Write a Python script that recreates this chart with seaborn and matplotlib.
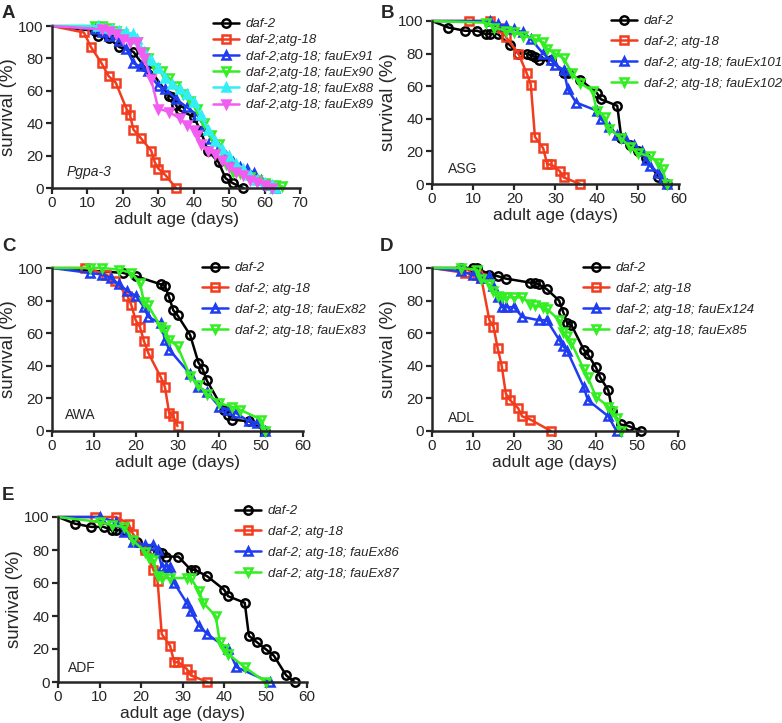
import matplotlib
matplotlib.use("Agg")
import pandas as pd
import seaborn as sns
import matplotlib.pyplot as plt

# ---- DATA ----
# A: Pgpa-3
a_daf2_days = [0, 12, 13, 16, 19, 23, 26, 28, 33, 34, 35, 36, 40, 42, 44, 47, 49, 51, 54]
a_daf2_surv = [100, 97, 94, 92.5, 87, 84, 75, 72, 57, 56, 51, 48, 44, 35, 23, 16, 6, 3, 0]
a_atg18_days = [0, 9, 11, 14, 16, 18, 21, 22, 23, 25, 28, 29, 30, 32, 35]
a_atg18_surv = [100, 96, 87, 77, 69, 65, 49, 45, 36, 31, 23, 16, 12, 8, 0]
a_ex91_days = [0, 12, 14, 16, 19, 21, 23, 25, 27, 30, 32, 35, 38, 41, 43, 45, 47, 49, 51, 53, 55, 57, 59, 61, 63]
a_ex91_surv = [100, 98, 96, 94, 91, 86, 77, 75, 72, 63, 61, 55, 50, 45, 38, 30, 25, 20, 16, 13, 12, 9, 5, 2, 0]
a_ex90_days = [0, 12, 14, 16, 18, 20, 22, 24, 26, 27, 29, 31, 33, 35, 37, 39, 41, 43, 45, 47, 49, 51, 53, 56, 58, 60, 63, 65]
a_ex90_surv = [100, 100, 100, 99, 97, 95, 92, 90, 84, 80, 74, 72, 68, 63, 58, 54, 49, 40, 33, 27, 15, 10, 9, 7, 5, 3, 2, 1]
a_ex88_days = [0, 13, 15, 17, 19, 21, 23, 24, 26, 28, 30, 32, 34, 36, 38, 40, 42, 44, 46, 48, 50, 52, 54, 56, 58, 60, 62, 63]
a_ex88_surv = [100, 100, 99, 98, 97, 96, 95, 92, 84, 79, 74, 68, 64, 61, 58, 53, 45, 36, 29, 24, 20, 15, 12, 8, 5, 3, 2, 0]
a_ex89_days = [0, 14, 16, 18, 20, 22, 24, 25, 26, 28, 30, 33, 36, 38, 40, 41, 42, 44, 46, 48, 50, 52, 54, 56, 58, 60, 62]
a_ex89_surv = [100, 98, 97, 95, 92, 90, 90, 84, 80, 67, 49, 47, 43, 39, 36, 33, 27, 23, 21, 17, 13, 10, 8, 5, 4, 2, 0]

# shared controls for B (ASG) and E (ADF)
ctrl_daf2_days = [0, 4, 8, 11, 13, 14, 16, 19, 21, 23, 24, 25, 26, 29, 32, 33, 36, 40, 41, 45, 46, 48, 50, 52, 55, 57]
ctrl_daf2_surv = [100, 96, 94, 94, 92, 92, 92, 85, 80, 80, 79, 78, 76, 76, 68, 68, 64, 56, 52, 48, 28, 24, 20, 16, 4, 0]
ctrl_atg18_days = [0, 9, 14, 17, 18, 21, 23, 24, 25, 27, 28, 29, 31, 32, 36]
ctrl_atg18_surv = [100, 100, 100, 96, 90, 80, 68, 61, 29, 22, 12, 12, 8, 4, 0]

# B: ASG
b_ex101_days = [0, 14, 16, 18, 20, 22, 24, 27, 29, 30, 32, 33, 35, 40, 41, 43, 45, 47, 49, 51, 52, 53, 55, 56, 57]
b_ex101_surv = [100, 100, 98, 97, 95, 93, 89, 80, 76, 73, 70, 58, 50, 45, 40, 35, 30, 28, 24, 20, 15, 11, 7, 3, 0]
b_ex102_days = [0, 13, 15, 18, 20, 22, 25, 27, 28, 30, 32, 34, 36, 39, 40, 42, 43, 46, 48, 50, 53, 55, 56, 57]
b_ex102_surv = [100, 99, 96, 94, 93, 91, 89, 87, 83, 80, 77, 68, 62, 57, 45, 41, 34, 28, 23, 19, 17, 13, 9, 0]

# C: AWA
c_daf2_days = [0, 17, 20, 26, 27, 28, 29, 30, 33, 35, 36, 37, 41, 42, 43, 47, 51]
c_daf2_surv = [100, 97, 95, 90, 89, 82, 74, 71, 59, 42, 38, 31, 13, 10, 7, 6, 0]
c_atg18_days = [0, 8, 13, 15, 18, 19, 20, 21, 22, 23, 26, 27, 28, 29, 30]
c_atg18_surv = [100, 100, 96, 92, 83, 77, 68, 64, 55, 48, 33, 27, 11, 9, 3]
c_ex82_days = [0, 9, 12, 14, 16, 18, 20, 22, 23, 26, 27, 28, 33, 35, 37, 40, 42, 44, 47, 49, 51]
c_ex82_surv = [100, 97, 96, 94, 90, 86, 83, 76, 70, 66, 56, 50, 35, 27, 24, 15, 13, 11, 6, 5, 0]
c_ex83_days = [0, 9, 12, 16, 19, 21, 22, 23, 26, 27, 28, 30, 33, 35, 37, 40, 43, 45, 50, 51]
c_ex83_surv = [100, 100, 100, 99, 97, 91, 79, 77, 64, 62, 56, 52, 34, 28, 23, 17, 15, 13, 7, 0]

# D: ADL
d_daf2_days = [0, 7, 10, 11, 14, 16, 18, 24, 25, 26, 28, 31, 32, 33, 34, 37, 38, 40, 41, 43, 44, 46, 48, 51]
d_daf2_surv = [100, 100, 100, 100, 96, 95, 93.5, 91, 91, 90, 87, 80, 73, 66, 65, 50, 47, 39, 33, 25, 12, 4, 3, 0]
d_atg18_days = [0, 8, 11, 12, 14, 15, 16, 17, 18, 19, 21, 22, 24, 29]
d_atg18_surv = [100, 97, 96, 94, 68, 64, 51, 40, 23, 19, 14, 9, 7, 0]
d_ex124_days = [0, 7, 10, 12, 14, 15, 16, 17, 18, 20, 22, 26, 28, 31, 32, 33, 37, 38, 43, 45]
d_ex124_surv = [100, 98, 96, 94, 95, 89, 82, 76, 76, 76, 70, 68, 68, 56, 52, 49, 27, 19, 9, 0]
d_ex85_days = [0, 7, 11, 12, 14, 15, 16, 17, 18, 20, 22, 24, 25, 27, 28, 31, 32, 33, 34, 37, 38, 40, 43, 44, 45, 46]
d_ex85_surv = [100, 100, 99, 93, 90, 86, 83, 82, 82, 82, 82, 78, 77, 76, 75, 68, 61, 58, 54, 38, 33, 21, 15, 12, 8, 0]

# E: ADF
e_ex86_days = [0, 10, 14, 16, 18, 21, 23, 24, 25, 26, 27, 28, 31, 32, 34, 36, 41, 43, 51]
e_ex86_surv = [100, 100, 97, 91, 85, 83, 83, 80, 70, 70, 70, 60, 48, 43, 34, 29, 20, 9, 0]
e_ex87_days = [0, 10, 13, 16, 18, 21, 22, 23, 24, 25, 27, 31, 32, 34, 35, 38, 39, 40, 41, 45, 50]
e_ex87_surv = [100, 97, 95, 94, 86, 79, 75, 74, 64, 63, 63, 63, 63, 55, 48, 40, 24, 20, 17, 9, 0]

# ---- STYLE ----
sns.set_style("ticks")
plt.rcParams['font.family'] = ['Liberation Sans', 'DejaVu Sans']

BLACK = '#000000'
RED = '#f23c1e'
BLUE = '#1e3cf0'
GREEN = '#33ee22'
CYAN = '#33eef5'
MAGENTA = '#f25cf0'


def draw_curve(ax, days, surv, color, marker, filled, label):
    df = pd.DataFrame({'day': days, 'surv': surv})
    sns.lineplot(data=df, x='day', y='surv', ax=ax, color=color, marker=marker,
                 markersize=6, markerfacecolor=color if filled else 'none',
                 markeredgecolor=color, markeredgewidth=1.8, linewidth=1.8,
                 markevery=list(range(1, len(df))), estimator=None, sort=False,
                 label=label, clip_on=False)


def style_axes(ax, xmax, legend_xy, spacing):
    ax.set_xlim(0, xmax)
    ax.set_ylim(0, 100)
    ax.set_xticks(range(0, xmax + 1, 10))
    ax.set_yticks(range(0, 101, 20))
    ax.set_xlabel('adult age (days)', fontsize=12.5, labelpad=1)
    ax.set_ylabel('survival (%)', fontsize=13.5, labelpad=1)
    ax.tick_params(labelsize=11, width=1.6, length=4, pad=2)
    for s in ['left', 'bottom']:
        ax.spines[s].set_linewidth(1.8)
    sns.despine(ax=ax)
    fig = ax.figure
    ax.legend(loc='upper left', bbox_to_anchor=(legend_xy[0] / 782, 1 - legend_xy[1] / 723),
              bbox_transform=fig.transFigure, frameon=False, borderpad=0, borderaxespad=0,
              handlelength=2.0, handletextpad=0.5, labelspacing=spacing,
              prop={'style': 'italic', 'size': 9.5})


fig = plt.figure(figsize=(7.82, 7.23), dpi=100)
ax_a = fig.add_axes([52 / 782, 1 - 188 / 723, 248 / 782, 162 / 723])
ax_b = fig.add_axes([432 / 782, 1 - 184 / 723, 247 / 782, 163 / 723])
ax_c = fig.add_axes([52 / 782, 1 - 431 / 723, 251 / 782, 163 / 723])
ax_d = fig.add_axes([432 / 782, 1 - 431 / 723, 246 / 782, 163 / 723])
ax_e = fig.add_axes([58 / 782, 1 - 682 / 723, 249 / 782, 165 / 723])

# A
draw_curve(ax_a, a_daf2_days, a_daf2_surv, BLACK, 'o', False, 'daf-2')
draw_curve(ax_a, a_atg18_days, a_atg18_surv, RED, 's', False, 'daf-2;atg-18')
draw_curve(ax_a, a_ex91_days, a_ex91_surv, BLUE, '^', False, 'daf-2;atg-18; fauEx91')
draw_curve(ax_a, a_ex90_days, a_ex90_surv, GREEN, 'v', False, 'daf-2;atg-18; fauEx90')
draw_curve(ax_a, a_ex88_days, a_ex88_surv, CYAN, '^', True, 'daf-2;atg-18; fauEx88')
draw_curve(ax_a, a_ex89_days, a_ex89_surv, MAGENTA, 'v', True, 'daf-2;atg-18; fauEx89')
style_axes(ax_a, 70, (213, 18), 0.3)
ax_a.text(4, 10, 'Pgpa-3', fontsize=10, style='italic', va='center')

# B
draw_curve(ax_b, ctrl_daf2_days, ctrl_daf2_surv, BLACK, 'o', False, 'daf-2')
draw_curve(ax_b, ctrl_atg18_days, ctrl_atg18_surv, RED, 's', False, 'daf-2; atg-18')
draw_curve(ax_b, b_ex101_days, b_ex101_surv, BLUE, '^', False, 'daf-2; atg-18; fauEx101')
draw_curve(ax_b, b_ex102_days, b_ex102_surv, GREEN, 'v', False, 'daf-2; atg-18; fauEx102')
style_axes(ax_b, 60, (611, 15), 0.65)
ax_b.text(4, 9, 'ASG', fontsize=10, va='center')

# C
draw_curve(ax_c, c_daf2_days, c_daf2_surv, BLACK, 'o', False, 'daf-2')
draw_curve(ax_c, c_atg18_days, c_atg18_surv, RED, 's', False, 'daf-2; atg-18')
draw_curve(ax_c, c_ex82_days, c_ex82_surv, BLUE, '^', False, 'daf-2; atg-18; fauEx82')
draw_curve(ax_c, c_ex83_days, c_ex83_surv, GREEN, 'v', False, 'daf-2; atg-18; fauEx83')
style_axes(ax_c, 60, (202, 262), 0.65)
ax_c.text(3, 10, 'AWA', fontsize=10, va='center')

# D
draw_curve(ax_d, d_daf2_days, d_daf2_surv, BLACK, 'o', False, 'daf-2')
draw_curve(ax_d, d_atg18_days, d_atg18_surv, RED, 's', False, 'daf-2; atg-18')
draw_curve(ax_d, d_ex124_days, d_ex124_surv, BLUE, '^', False, 'daf-2; atg-18; fauEx124')
draw_curve(ax_d, d_ex85_days, d_ex85_surv, GREEN, 'v', False, 'daf-2; atg-18; fauEx85')
style_axes(ax_d, 60, (583, 262), 0.65)
ax_d.text(4, 8, 'ADL', fontsize=10, va='center')

# E
draw_curve(ax_e, ctrl_daf2_days, ctrl_daf2_surv, BLACK, 'o', False, 'daf-2')
draw_curve(ax_e, ctrl_atg18_days, ctrl_atg18_surv, RED, 's', False, 'daf-2; atg-18')
draw_curve(ax_e, e_ex86_days, e_ex86_surv, BLUE, '^', False, 'daf-2; atg-18; fauEx86')
draw_curve(ax_e, e_ex87_days, e_ex87_surv, GREEN, 'v', False, 'daf-2; atg-18; fauEx87')
style_axes(ax_e, 60, (235, 505), 0.65)
ax_e.text(2.5, 8.5, 'ADF', fontsize=10, va='center')

# panel letters
for letter, x, y in [('A', 2, 5), ('B', 381, 5), ('C', 2, 238), ('D', 380, 238), ('E', 2, 487)]:
    fig.text(x / 782, 1 - y / 723, letter, fontsize=13.5, fontweight='bold', va='top', ha='left')

fig.savefig('out.png', dpi=100)
